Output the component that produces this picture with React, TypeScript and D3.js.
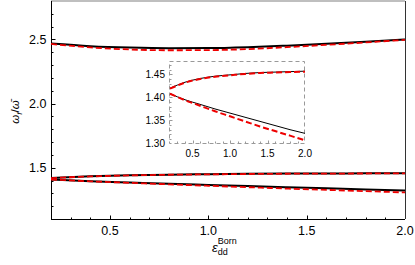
import { useEffect, useRef } from 'react';
import * as d3 from 'd3';

const eps = [0.2, 0.4, 0.6, 0.8, 1.0, 1.2, 1.4, 1.6, 1.8, 2.0];

// upper branch (main panel)
const highExact = [2.468, 2.448, 2.437, 2.432, 2.433, 2.440, 2.452, 2.466, 2.482, 2.500];
const highApprox = [2.465, 2.438, 2.422, 2.416, 2.417, 2.425, 2.440, 2.458, 2.477, 2.497];

// two lower branches (shown in main panel and in inset)
const midExact = [1.420, 1.433, 1.441, 1.446, 1.449, 1.452, 1.454, 1.455, 1.456, 1.457];
const midApprox = [1.419, 1.432, 1.440, 1.445, 1.448, 1.451, 1.453, 1.454, 1.455, 1.456];
const lowExact = [1.408, 1.395, 1.385, 1.375, 1.366, 1.357, 1.348, 1.339, 1.330, 1.322];
const lowApprox = [1.408, 1.394, 1.382, 1.370, 1.359, 1.348, 1.337, 1.327, 1.317, 1.307];

const mainXTicks = [0.5, 1.0, 1.5, 2.0];
const mainYTicks = [1.5, 2.0, 2.5];
const insetXTicks = [0.5, 1.0, 1.5, 2.0];
const insetYTicks = [1.30, 1.35, 1.40, 1.45];

const FONT = 'Liberation Sans, Arial, sans-serif';

export default function App() {
  const svgRef = useRef<SVGSVGElement>(null);

  useEffect(() => {
    if (!svgRef.current) return;
    const svg = d3.select(svgRef.current);
    svg.selectAll('*').remove();

    const x = d3.scaleLinear().domain([0.2, 2.0]).range([51, 405]);
    const y = d3.scaleLinear().domain([1.1, 2.8]).range([219, 1]);

    const main = svg.append('g');

    // frame
    main.append('line').attr('x1', 51).attr('x2', 405).attr('y1', 1).attr('y2', 1)
      .attr('stroke', '#aaa').attr('stroke-width', 1.5);
    main.append('line').attr('x1', 405.5).attr('x2', 405.5).attr('y1', 1).attr('y2', 219)
      .attr('stroke', '#333').attr('stroke-width', 1);

    // x axis with inward ticks
    const xAxis = main.append('g').attr('transform', 'translate(0,219.5)');
    xAxis.append('line').attr('x1', 51).attr('x2', 405).attr('stroke', '#000');
    const xMinor = d3.range(0.3, 2.0, 0.1);
    xAxis.selectAll('.mx').data(xMinor).join('line')
      .attr('x1', d => Math.round(x(d)) + 0.5).attr('x2', d => Math.round(x(d)) + 0.5)
      .attr('y1', 0).attr('y2', d => (mainXTicks.some(t => Math.abs(t - d) < 1e-6) ? -4 : -2))
      .attr('stroke', '#000');
    xAxis.selectAll('text').data(mainXTicks).join('text')
      .attr('x', d => x(d)).attr('y', 15)
      .attr('text-anchor', 'middle')
      .style('font-family', FONT).style('font-size', '12.5px')
      .text(d => d.toFixed(1));

    // y axis
    const yAxis = main.append('g').attr('transform', 'translate(51.5,0)');
    yAxis.append('line').attr('y1', 1).attr('y2', 219.5).attr('stroke', '#000');
    const yMinor = d3.range(1.2, 2.8, 0.1);
    yAxis.selectAll('.my').data(yMinor).join('line')
      .attr('y1', d => Math.round(y(d)) + 0.5).attr('y2', d => Math.round(y(d)) + 0.5)
      .attr('x1', 0).attr('x2', d => (mainYTicks.some(t => Math.abs(t - d) < 1e-6) ? 4 : 2))
      .attr('stroke', '#000');
    yAxis.selectAll('text').data(mainYTicks).join('text')
      .attr('x', -5).attr('y', d => y(d) + 4.5)
      .attr('text-anchor', 'end')
      .style('font-family', FONT).style('font-size', '12.5px')
      .text(d => d.toFixed(1));

    const line = (xs: d3.ScaleLinear<number, number>, ys: d3.ScaleLinear<number, number>) =>
      d3.line<number>().x((_, i) => xs(eps[i])).y(d => ys(d)).curve(d3.curveMonotoneX);

    const mainLine = line(x, y);
    [highExact, midExact, lowExact].forEach(s => {
      main.append('path').datum(s).attr('d', mainLine)
        .attr('fill', 'none').attr('stroke', '#000').attr('stroke-width', 2);
    });
    [highApprox, midApprox, lowApprox].forEach(s => {
      main.append('path').datum(s).attr('d', mainLine)
        .attr('fill', 'none').attr('stroke', '#e00').attr('stroke-width', 1.8)
        .attr('stroke-dasharray', '6,3');
    });

    // axis titles
    svg.append('text')
      .attr('transform', 'translate(19,112) rotate(-90)')
      .attr('text-anchor', 'middle')
      .style('font-family', FONT).style('font-size', '11.5px')
      .html('<tspan font-style="italic">ω</tspan><tspan font-style="italic" font-size="8" dy="3">f</tspan><tspan dy="-3">/</tspan><tspan font-style="italic">ω\u0304</tspan>');

    svg.append('text')
      .attr('x', 212).attr('y', 252)
      .style('font-family', FONT).style('font-size', '13px')
      .html('<tspan font-style="italic">ε</tspan><tspan font-size="9" dy="3">dd</tspan><tspan font-size="9" dx="-10" dy="-11">Born</tspan>');

    // inset
    const ix = d3.scaleLinear().domain([0.2, 2.0]).range([170, 305]);
    const iy = d3.scaleLinear().domain([1.30, 1.478]).range([143.5, 61.5]);
    const inset = svg.append('g');
    inset.append('rect').attr('x', 169.5).attr('y', 61.5).attr('width', 135).attr('height', 82)
      .attr('fill', '#fff').attr('stroke', '#999').attr('stroke-dasharray', '4,3');
    inset.selectAll('.ixt').data(d3.range(0.3, 2.0, 0.1)).join('line')
      .attr('x1', d => Math.round(ix(d)) + 0.5).attr('x2', d => Math.round(ix(d)) + 0.5)
      .attr('y1', 143.5).attr('y2', d => (insetXTicks.some(t => Math.abs(t - d) < 1e-6) ? 140.5 : 141.5))
      .attr('stroke', '#999');
    inset.selectAll('.iyt').data(d3.range(1.31, 1.475, 0.01)).join('line')
      .attr('y1', d => Math.round(iy(d)) + 0.5).attr('y2', d => Math.round(iy(d)) + 0.5)
      .attr('x1', 169.5).attr('x2', d => (insetYTicks.some(t => Math.abs(t - d) < 1e-6) ? 172.5 : 171.5))
      .attr('stroke', '#999');
    inset.selectAll('.ixl').data(insetXTicks).join('text')
      .attr('x', d => ix(d)).attr('y', 157)
      .attr('text-anchor', 'middle')
      .style('font-family', FONT).style('font-size', '10px')
      .text(d => d.toFixed(1));
    inset.selectAll('.iyl').data(insetYTicks).join('text')
      .attr('x', 165).attr('y', d => iy(d) + 3.5)
      .attr('text-anchor', 'end')
      .style('font-family', FONT).style('font-size', '10px')
      .text(d => d.toFixed(2));

    const insetLine = line(ix, iy);
    [midExact, lowExact].forEach(s => {
      inset.append('path').datum(s).attr('d', insetLine)
        .attr('fill', 'none').attr('stroke', '#000').attr('stroke-width', 1);
    });
    [midApprox, lowApprox].forEach(s => {
      inset.append('path').datum(s).attr('d', insetLine)
        .attr('fill', 'none').attr('stroke', '#e00').attr('stroke-width', 2)
        .attr('stroke-dasharray', '6,3');
    });
  }, []);

  return (
    <svg
      ref={svgRef}
      width={415}
      height={265}
      style={{ position: 'absolute', left: 0, top: 0, background: '#fff' }}
    />
  );
}
